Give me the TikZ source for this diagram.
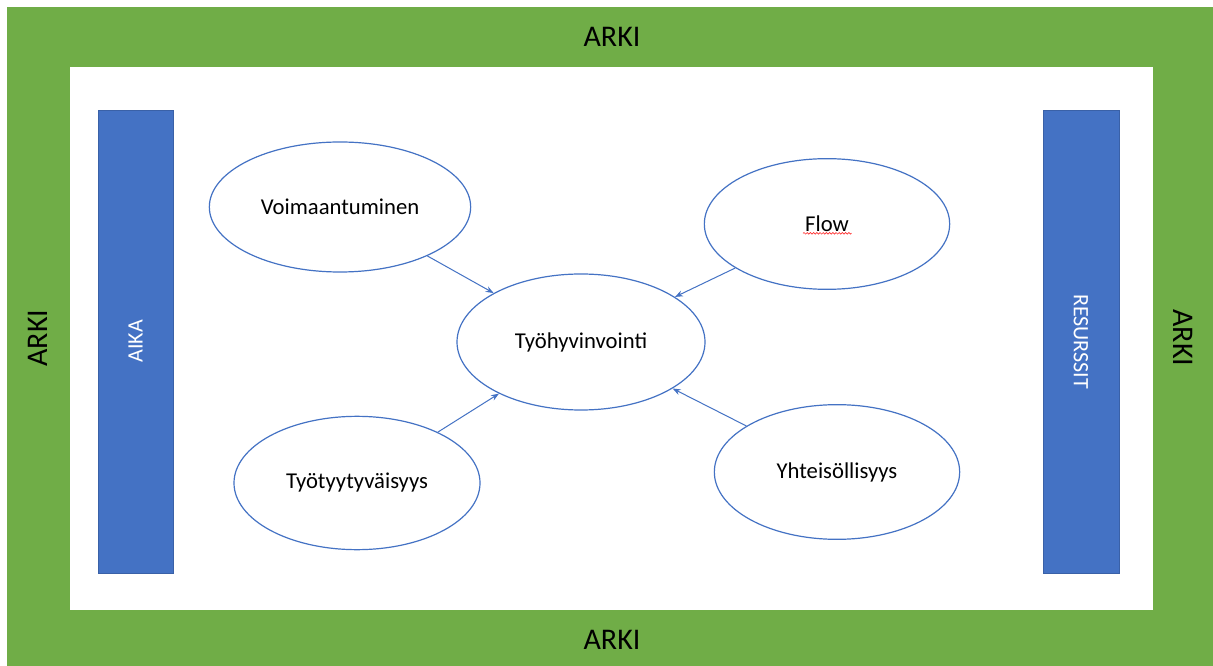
\documentclass[tikz,border=0pt]{standalone}
\usepackage{fontspec}
\setmainfont{Carlito}
\usepackage{tikz}
\usetikzlibrary{shapes.geometric,arrows.meta,decorations.pathmorphing}
\definecolor{arkigreen}{HTML}{70AD47}
\definecolor{officeblue}{HTML}{4472C4}

\begin{document}
\begin{tikzpicture}[x=0.75pt,y=-0.75pt,
  pal/.style={fill=officeblue,draw=officeblue!85!black,line width=0.5pt},
  paltext/.style={text=white,font=\fontsize{16.5}{19}\selectfont},
  kupla/.style={ellipse,draw=officeblue,line width=0.9pt,fill=white,inner sep=0pt,font=\fontsize{17}{20}\selectfont},
  nuoli/.style={draw=officeblue,line width=0.75pt,-{Stealth[length=6pt,width=4.5pt]}},
  arki/.style={font=\fontsize{22.5}{26}\selectfont}]
\useasboundingbox (0,0) rectangle (1213,666);
\fill[white] (0,0) rectangle (1213,666);
\fill[arkigreen] (7,7) rectangle (1213,666);
\fill[white] (70,67) rectangle (1153,610);

\node[arki] (arkiyla) at (612,37) {ARKI};
\node[arki] (arkiala) at (612,640) {ARKI};
\node[arki,rotate=90] (arkivasen) at (38,338) {ARKI};
\node[arki,rotate=-90] (arkioikea) at (1183,338) {ARKI};

\draw[pal] (98,110) rectangle (173,573);
\draw[pal] (1043,110) rectangle (1119,573);
\node[paltext,rotate=90] (aika) at (135.5,341.5) {AIKA};
\node[paltext,rotate=-90] (resurssit) at (1081,341.5) {RESURSSIT};

\node[kupla,minimum width=196pt,minimum height=97.5pt] (voima) at (340,207) {Voimaantuminen};
\node[kupla,minimum width=184pt,minimum height=98pt] (flow) at (827,224) {Flow};
\node[kupla,minimum width=186pt,minimum height=102pt] (hyvin) at (581,342) {Työhyvinvointi};
\node[kupla,minimum width=184.5pt,minimum height=100pt] (tyyty) at (357,483) {Työtyytyväisyys};
\node[kupla,minimum width=184pt,minimum height=101pt] (yhteis) at (837,472) {Yhteisöllisyys};

\draw[red!80,line width=0.5pt,decorate,decoration={snake,amplitude=0.6pt,segment length=2.4pt}]
  ([xshift=-18pt,yshift=-7pt]flow.center) -- ([xshift=18.5pt,yshift=-7pt]flow.center);

\draw[nuoli] (voima) -- (hyvin);
\draw[nuoli] (flow) -- (hyvin);
\draw[nuoli] (tyyty) -- (hyvin);
\draw[nuoli] (yhteis) -- (hyvin);
\end{tikzpicture}
\end{document}
